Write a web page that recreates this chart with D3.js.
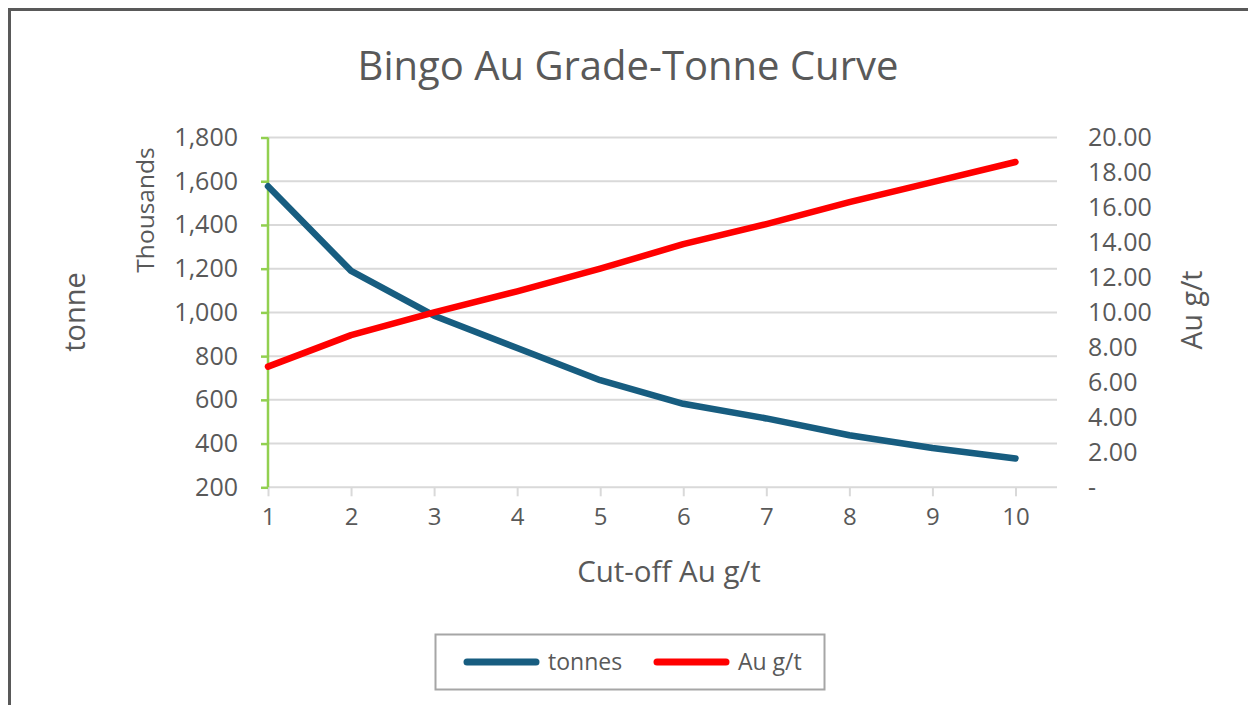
<!DOCTYPE html>
<html>
<head>
<meta charset="utf-8">
<script src="https://cdn.jsdelivr.net/npm/d3@7"></script>
<style>
  html, body { margin: 0; padding: 0; background: #ffffff; }
  svg { display: block; }
  text { font-family: "Open Sans", "Noto Sans", sans-serif; fill: #595959; }
</style>
</head>
<body>
<svg id="chart" width="1248" height="705"></svg>
<script>
// Cut-off grades (Au g/t)
const cutoffs = [1, 2, 3, 4, 5, 6, 7, 8, 9, 10];
// Tonnes above cut-off
const tonnes = [1577000, 1190000, 985000, 837000, 690000, 582000, 515000, 438000, 380000, 332000];
// Average grade above cut-off (Au g/t)
const grades = [6.9, 8.7, 10.0, 11.2, 12.5, 13.9, 15.05, 16.3, 17.45, 18.6];
// Axis ticks
const tonneTicks = [200000, 400000, 600000, 800000, 1000000, 1200000, 1400000, 1600000, 1800000];
const gradeTicks = [0, 2, 4, 6, 8, 10, 12, 14, 16, 18, 20];
const seriesNames = ["tonnes", "Au g/t"];

const svg = d3.select("#chart");
const W = 1248, H = 705;

const plot = { left: 268, right: 1057, top: 137.5, bottom: 487.3 };
const colors = { tonnes: "#175d80", grade: "#ff0000", grid: "#d9d9d9", axis: "#92d050", text: "#595959" };

const x = d3.scaleLinear().domain([1, 10.5]).range([plot.left, plot.right]);
const yL = d3.scaleLinear().domain([200000, 1800000]).range([plot.bottom, plot.top]);
const yR = d3.scaleLinear().domain([0, 20]).range([plot.bottom, plot.top]);

// outer frame
svg.append("rect")
  .attr("x", 9.5).attr("y", 9.5).attr("width", W + 50).attr("height", H + 50)
  .attr("fill", "#ffffff").attr("stroke", "#595959").attr("stroke-width", 3);

// title
svg.append("text")
  .attr("x", 628).attr("y", 80)
  .attr("text-anchor", "middle")
  .style("font-size", "40px")
  .text("Bingo Au Grade-Tonne Curve");

// horizontal gridlines
svg.append("g").selectAll("line").data(tonneTicks).join("line")
  .attr("x1", plot.left).attr("x2", plot.right)
  .attr("y1", d => yL(d)).attr("y2", d => yL(d))
  .attr("stroke", colors.grid).attr("stroke-width", 2);

// x axis (ticks below the baseline)
const xAxis = d3.axisBottom(x).tickValues(cutoffs).tickSize(9).tickPadding(12).tickFormat(d3.format("d"));
const gx = svg.append("g").attr("transform", `translate(0,${plot.bottom})`).call(xAxis);
gx.select(".domain").remove();
gx.selectAll(".tick line").attr("stroke", colors.grid).attr("stroke-width", 2);
gx.selectAll(".tick text").style("font-size", "24px").attr("fill", colors.text).style("font-family", null);

// left axis (thousands of tonnes)
const yAxisL = d3.axisLeft(yL).tickValues(tonneTicks).tickSize(7).tickPadding(23)
  .tickFormat(d => d3.format(",")(d / 1000));
const gl = svg.append("g").attr("transform", `translate(${plot.left},0)`).call(yAxisL);
gl.select(".domain").attr("stroke", colors.axis).attr("stroke-width", 2.5).attr("d", `M0,${plot.top}V${plot.bottom}`);
gl.selectAll(".tick line").attr("stroke", colors.axis).attr("stroke-width", 2.5);
gl.selectAll(".tick text").style("font-size", "25px").attr("fill", colors.text).style("font-family", null);

// right axis (grade)
const yAxisR = d3.axisRight(yR).tickValues(gradeTicks).tickSize(0).tickPadding(31)
  .tickFormat(d => d === 0 ? "-" : d3.format(".2f")(d));
const gr = svg.append("g").attr("transform", `translate(${plot.right},0)`).call(yAxisR);
gr.select(".domain").remove();
gr.selectAll(".tick text").style("font-size", "25px").attr("fill", colors.text).style("font-family", null);

// axis titles
svg.append("text")
  .attr("transform", "translate(154,210) rotate(-90)")
  .attr("text-anchor", "middle").style("font-size", "24.5px")
  .text("Thousands");
svg.append("text")
  .attr("transform", "translate(85,312) rotate(-90)")
  .attr("text-anchor", "middle").style("font-size", "29px")
  .text("tonne");
svg.append("text")
  .attr("transform", "translate(1202,310) rotate(-90)")
  .attr("text-anchor", "middle").style("font-size", "28.5px")
  .text("Au g/t");
svg.append("text")
  .attr("x", 669).attr("y", 582)
  .attr("text-anchor", "middle").style("font-size", "29.5px")
  .text("Cut-off Au g/t");

// series lines
const tonneLine = d3.line()
  .x((d, i) => x(cutoffs[i])).y(d => yL(d));
const gradeLine = d3.line()
  .x((d, i) => x(cutoffs[i])).y(d => yR(d));

svg.append("path").datum(tonnes).attr("d", tonneLine)
  .attr("fill", "none").attr("stroke", colors.tonnes).attr("stroke-width", 6.5)
  .attr("stroke-linecap", "round").attr("stroke-linejoin", "round");
svg.append("path").datum(grades).attr("d", gradeLine)
  .attr("fill", "none").attr("stroke", colors.grade).attr("stroke-width", 6.5)
  .attr("stroke-linecap", "round").attr("stroke-linejoin", "round");

// legend
const legend = svg.append("g");
legend.append("rect")
  .attr("x", 435.5).attr("y", 634.5).attr("width", 389).attr("height", 55)
  .attr("fill", "#ffffff").attr("stroke", "#a6a6a6").attr("stroke-width", 2);
const items = [
  { name: seriesNames[0], color: colors.tonnes, x0: 467 },
  { name: seriesNames[1], color: colors.grade, x0: 657 }
];
items.forEach(it => {
  legend.append("line")
    .attr("x1", it.x0).attr("x2", it.x0 + 69).attr("y1", 662).attr("y2", 662)
    .attr("stroke", it.color).attr("stroke-width", 7).attr("stroke-linecap", "round");
  legend.append("text")
    .attr("x", it.x0 + 81).attr("y", 670)
    .style("font-size", "23px")
    .text(it.name);
});
</script>
</body>
</html>
